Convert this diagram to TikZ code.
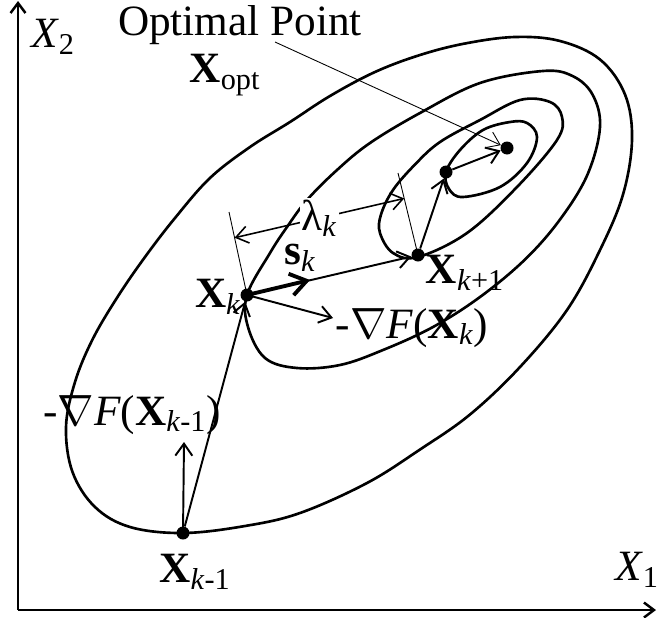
\documentclass[tikz,border=0pt]{standalone}
\usepackage{fontspec}
\setmainfont{Liberation Serif}
\usetikzlibrary{positioning,arrows.meta,calc}

\newcommand{\bX}[1]{\textbf{X}\textsubscript{#1}}
\newcommand{\kk}{\textit{k}}

\begin{document}
\begin{tikzpicture}[font=\fontsize{24.6}{29}\selectfont,
        contour/.style={line width=1.5pt},
        vec/.style={line width=1.1pt, -{Straight Barb[length=2.4mm,width=3.4mm]}},
        thinline/.style={line width=0.5pt},
        axis/.style={line width=1.4pt, -{Straight Barb[length=2mm,width=3mm]}},
        dot/.style={circle, fill=black, inner sep=0pt, minimum size=0.26cm}]
        \useasboundingbox (0,0) rectangle (13.14,12.34);

        % Draw axes
        \coordinate (o) at (0.36,0.14);
        \coordinate (x1end) at (13.12,0.14);
        \coordinate (x2end) at (0.36,12.32);
        \draw[axis] (o) -- (x1end);
        \draw[axis] (o) -- (x2end);
        \node (x1lab) at (12.74,0.94) {\textit{X}\textsubscript{1}};
        \node (x2lab) at (1.06,11.60) {\textit{X}\textsubscript{2}};

        % Draw contours of F
        \draw[contour] plot[smooth cycle, tension=0.6] coordinates {
            (3.66,1.68) (4.90,1.82) (6.00,2.08) (7.34,2.68) (8.40,3.35) (9.40,4.05)
            (10.40,5.00) (11.34,6.14) (12.00,7.34) (12.46,8.45) (12.64,9.55) (12.50,10.45)
            (12.00,11.15) (11.20,11.52) (10.30,11.60) (9.30,11.47) (8.40,11.24) (7.50,10.90)
            (6.60,10.42) (5.80,9.90) (5.00,9.40) (4.20,8.78) (3.50,7.98) (2.90,7.20)
            (2.35,6.40) (1.85,5.55) (1.50,4.70) (1.32,3.80) (1.45,2.90) (1.90,2.20)
            (2.60,1.80)};
        \draw[contour] plot[smooth cycle, tension=0.6] coordinates {
            (4.94,6.44) (4.96,5.80) (5.30,5.18) (5.94,4.98) (6.80,5.04) (7.66,5.34)
            (8.66,5.80) (9.60,6.40) (10.50,7.15) (11.20,7.95) (11.75,8.85) (12.00,9.80)
            (11.85,10.45) (11.45,10.82) (10.86,10.92) (9.60,10.68) (8.40,10.08)
            (7.40,9.48) (6.74,8.94) (6.14,8.34) (5.74,7.80) (5.40,7.28)};
        \draw[contour] plot[smooth cycle, tension=0.6] coordinates {
            (8.36,7.20) (9.34,7.68) (10.34,8.60) (11.14,9.54) (11.24,10.00) (11.00,10.30)
            (10.40,10.34) (9.60,9.94) (8.80,9.50) (8.30,9.05) (7.86,8.54) (7.62,8.05)
            (7.60,7.68) (7.86,7.28)};
        \draw[contour] plot[smooth cycle, tension=0.6] coordinates {
            (8.92,8.90) (8.98,8.56) (9.26,8.40) (10.00,8.60) (10.54,9.08) (10.74,9.60)
            (10.54,9.88) (10.20,9.90) (9.66,9.74) (9.20,9.34)};

        % Mark iterates
        \node[dot] (xkm1) at (3.66,1.68) {};
        \node[dot] (xk) at (4.94,6.44) {};
        \node[dot] (xkp1) at (8.36,7.24) {};
        \node[dot] (xkp2) at (8.92,8.90) {};
        \node[dot] (xopt) at (10.14,9.38) {};

        % Steps between iterates
        \draw[vec] (xkm1) -- (xk);
        \draw[vec] (xk) -- (xkp1);
        \draw[vec] (xkp1) -- (xkp2);
        \draw[vec] (xkp2) -- (xopt);

        % Gradient directions
        \coordinate (gkm1) at (3.68,3.50);
        \coordinate (gk) at (6.66,5.98);
        \coordinate (sk) at (6.20,6.74);
        \draw[vec] (xkm1.center) -- (gkm1);
        \draw[vec] (xk.center) -- (gk);
        \draw[line width=2.2pt, -{Straight Barb[length=3.2mm,width=4.4mm]}] (xk.center) -- (sk);

        % Step length lambda
        \coordinate (lk) at (4.58,8.10);
        \coordinate (lkp1) at (7.96,8.88);
        \draw[thinline] (xk.center) -- (lk);
        \draw[thinline] (xkp1.center) -- (lkp1);
        \coordinate (la) at ($(xk.center)!0.69!(lk)$);
        \coordinate (lb) at ($(xkp1.center)!0.69!(lkp1)$);
        \draw[line width=0.9pt, {Straight Barb[length=2.4mm,width=3.4mm]}-{Straight Barb[length=2.4mm,width=3.4mm]}]
            (la) -- (lb) node[midway, fill=white, inner sep=1pt] {λ\textsubscript{\kk}};

        % Labels
        \node (lxkm1) at (3.90,0.90) {\bX{\kk-1}};
        \node (lxk) at (4.36,6.40) {\bX{\kk}};
        \node (lxkp1) at (9.30,6.88) {\bX{\kk+1}};
        \node (lsk) at (6.00,7.18) {\textbf{s}\textsubscript{\kk}};
        \node (lgk) at (8.24,5.78) {-$\nabla$\textit{F}(\bX{\kk})};
        \node (lgkm1) at (2.64,4.04) {-$\nabla$\textit{F}(\bX{\kk-1})};
        \node (lopt) at (4.50,10.84) {\bX{opt}};
        \node (lpoint) at (4.80,11.84) {Optimal Point};

        % Pointer to optimum
        \coordinate (ptr) at (5.50,11.50);
        \draw[thinline, -{Straight Barb[length=2.4mm,width=3.4mm]}] (ptr) -- (xopt);
    \end{tikzpicture}
\end{document}
